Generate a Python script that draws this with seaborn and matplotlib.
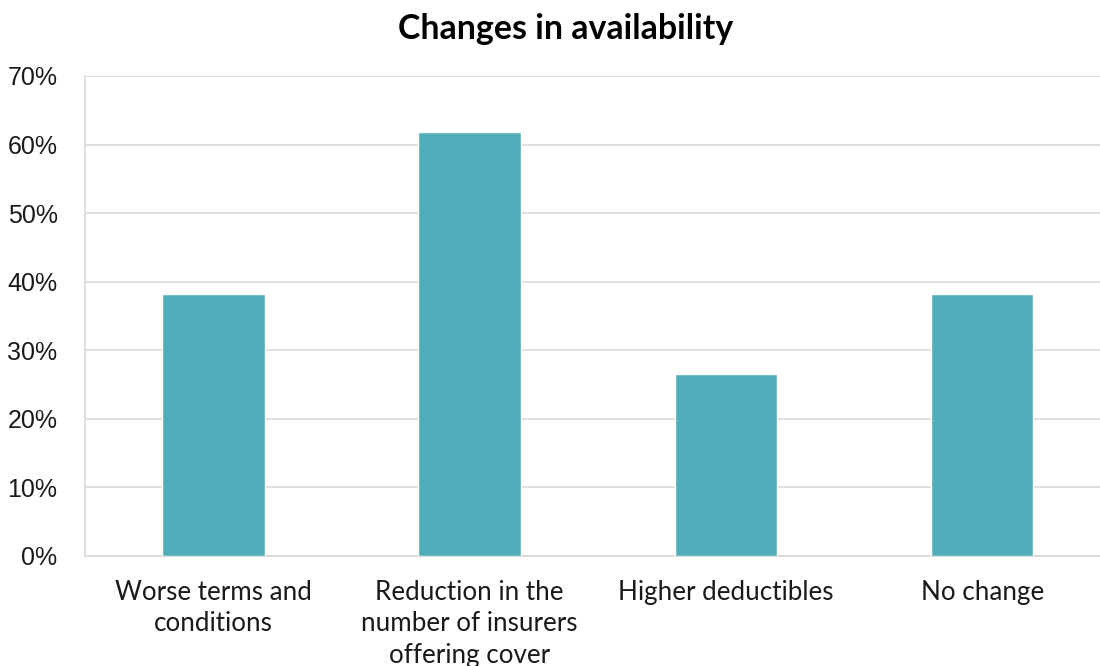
import matplotlib
matplotlib.use("Agg")
import matplotlib.pyplot as plt
import seaborn as sns
import pandas as pd
from matplotlib.ticker import PercentFormatter, MultipleLocator

categories = ["Worse terms and\nconditions",
              "Reduction in the\nnumber of insurers\noffering cover",
              "Higher deductibles",
              "No change"]
values = [38.2, 61.8, 26.5, 38.2]

df = pd.DataFrame({"category": categories, "value": values})

sns.set_theme(style="white")
plt.rcParams['font.family'] = ['Lato', 'DejaVu Sans']

fig = plt.figure(figsize=(11, 6.66), dpi=100)
ax = fig.add_axes([0.0776, 0.1652, 0.9318, 0.7207])

sns.barplot(data=df, x="category", y="value", color="#52ADBA", width=0.4,
            saturation=1, ax=ax, zorder=3)

ax.set_ylim(0, 70)
ax.yaxis.set_major_locator(MultipleLocator(10))
ax.yaxis.set_major_formatter(PercentFormatter(decimals=0))
ax.grid(axis="y", color="#d9d9d9", linewidth=1.2, zorder=0)
ax.set_axisbelow(True)
ax.set_xlabel("")
ax.set_ylabel("")

for s in ["top", "right"]:
    ax.spines[s].set_visible(False)
ax.spines["left"].set_color("#d9d9d9")
ax.spines["bottom"].set_color("#d9d9d9")
ax.spines["left"].set_linewidth(1.2)
ax.spines["bottom"].set_linewidth(1.2)

ax.tick_params(axis="y", length=0, pad=20, labelsize=18, labelcolor="#1a1a1a")
ax.tick_params(axis="x", length=0, pad=17, labelsize=18.7, labelcolor="#1a1a1a")
for t in ax.get_yticklabels():
    t.set_fontfamily(["Liberation Sans", "DejaVu Sans"])
for t in ax.get_xticklabels():
    t.set_linespacing(1.34)

fig.text(0.5145, 0.956, "Changes in availability", ha="center", va="center",
         fontsize=24.4, fontweight="bold", color="black")

fig.savefig("out.png", dpi=100)
